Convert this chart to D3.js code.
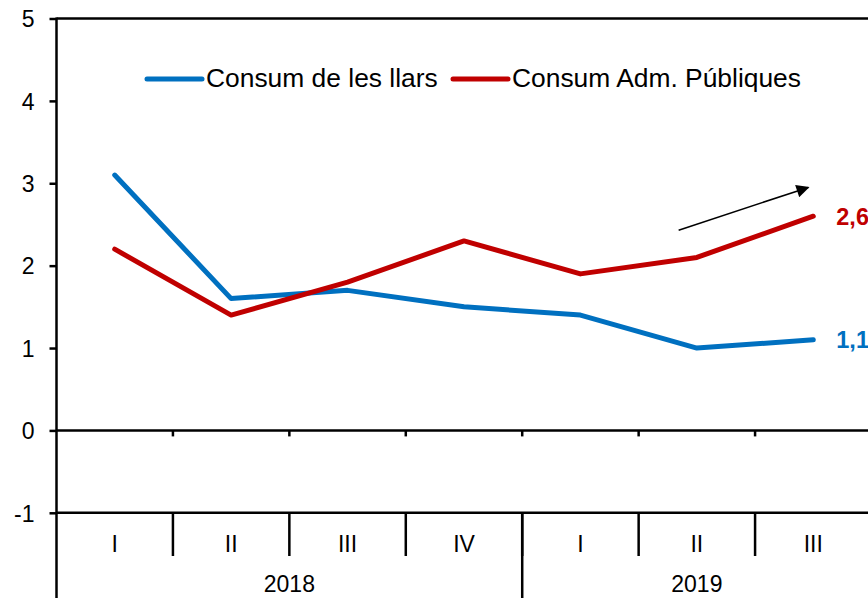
<!DOCTYPE html>
<html>
<head>
<meta charset="utf-8">
<script src="https://cdn.jsdelivr.net/npm/d3@7"></script>
<style>
  html, body { margin: 0; padding: 0; background: #fff; overflow: hidden; }
  svg { display: block; font-family: "Liberation Sans", Arial, sans-serif; }
</style>
</head>
<body>
<script>
// data
var quarters = ["I", "II", "III", "IV", "I", "II", "III"];
var years = ["2018", "2019"];
var yearSpan = [4, 3]; // quarters per year (2019 only goes to III)
var llars = [3.1, 1.6, 1.7, 1.5, 1.4, 1.0, 1.1];
var admPubliques = [2.2, 1.4, 1.8, 2.3, 1.9, 2.1, 2.6];
var yTicks = [-1, 0, 1, 2, 3, 4, 5];
var seriesNames = ["Consum de les llars", "Consum Adm. Públiques"];
var seriesColors = ["#0070C0", "#C00000"];

var w = 868, h = 598;
var svg = d3.select("body").append("svg")
  .attr("width", w)
  .attr("height", h);

var idx = d3.range(quarters.length);
// plot runs a little past the right edge of the window, like the source
var x = d3.scaleBand().domain(idx).range([56.5, 871.5]).padding(0);
var y = d3.scaleLinear().domain([-1, 5]).range([512.8, 18.5]);

var black = "#000";

// top border of plot area
svg.append("line")
  .attr("x1", x.range()[0]).attr("x2", x.range()[1])
  .attr("y1", y(5)).attr("y2", y(5))
  .attr("stroke", black).attr("stroke-width", 2.5);

// y axis
var yAxis = d3.axisLeft(y)
  .tickValues(yTicks)
  .tickSize(7)
  .tickPadding(15)
  .tickFormat(function(d) { return String(d); });

var gy = svg.append("g")
  .attr("transform", "translate(" + x.range()[0] + ",0)")
  .call(yAxis);
gy.select(".domain").remove();
gy.selectAll(".tick line").attr("stroke", black).attr("stroke-width", 2.5);
gy.selectAll(".tick text")
  .attr("fill", black)
  .style("font-size", "23px")
  .attr("dy", "0.36em");

// vertical axis line reaching to the bottom of the window
svg.append("line")
  .attr("x1", x.range()[0]).attr("x2", x.range()[0])
  .attr("y1", y(5) - 1).attr("y2", h)
  .attr("stroke", black).attr("stroke-width", 2.5);

// zero line with small tick marks at category boundaries
svg.append("line")
  .attr("x1", x.range()[0]).attr("x2", x.range()[1])
  .attr("y1", y(0)).attr("y2", y(0))
  .attr("stroke", black).attr("stroke-width", 2.5);
svg.selectAll("line.zt")
  .data(idx.slice(1))
  .enter().append("line")
  .attr("class", "zt")
  .attr("x1", function(d) { return x(d); })
  .attr("x2", function(d) { return x(d); })
  .attr("y1", y(0)).attr("y2", y(0) + 6)
  .attr("stroke", black).attr("stroke-width", 2.5);

// bottom line at -1
svg.append("line")
  .attr("x1", x.range()[0]).attr("x2", x.range()[1])
  .attr("y1", y(-1)).attr("y2", y(-1))
  .attr("stroke", black).attr("stroke-width", 2.5);

// quarter separators
var sepBottom = 556;
svg.selectAll("line.qsep")
  .data(idx.slice(1))
  .enter().append("line")
  .attr("class", "qsep")
  .attr("x1", function(d) { return x(d); })
  .attr("x2", function(d) { return x(d); })
  .attr("y1", y(-1)).attr("y2", sepBottom)
  .attr("stroke", black).attr("stroke-width", 2.5);

// quarter labels
svg.selectAll("text.q")
  .data(idx)
  .enter().append("text")
  .attr("class", "q")
  .attr("x", function(d) { return x(d) + x.bandwidth() / 2; })
  .attr("y", 551.5)
  .attr("text-anchor", "middle")
  .style("font-size", "23px")
  .text(function(d) { return quarters[d]; });

// year groups
var start = 0, yearInfo = [];
years.forEach(function(yr, i) {
  yearInfo.push({ label: yr, first: start, last: start + yearSpan[i] - 1 });
  start += yearSpan[i];
});
svg.selectAll("line.ysep")
  .data(yearInfo.slice(1))
  .enter().append("line")
  .attr("class", "ysep")
  .attr("x1", function(d) { return x(d.first); })
  .attr("x2", function(d) { return x(d.first); })
  .attr("y1", y(-1)).attr("y2", h)
  .attr("stroke", black).attr("stroke-width", 2.5);
svg.selectAll("text.yr")
  .data(yearInfo)
  .enter().append("text")
  .attr("class", "yr")
  .attr("x", function(d) { return (x(d.first) + x(d.last) + x.bandwidth()) / 2; })
  .attr("y", 592)
  .attr("text-anchor", "middle")
  .style("font-size", "23px")
  .text(function(d) { return d.label; });

// lines
var line = d3.line()
  .x(function(d, i) { return x(i) + x.bandwidth() / 2; })
  .y(function(d) { return y(d); });

[llars, admPubliques].forEach(function(s, k) {
  svg.append("path")
    .datum(s)
    .attr("d", line)
    .attr("fill", "none")
    .attr("stroke", seriesColors[k])
    .attr("stroke-width", 5)
    .attr("stroke-linejoin", "round")
    .attr("stroke-linecap", "round");
});

// end value labels
var fmt = function(v) { return d3.format(".1f")(v).replace(".", ","); };
var lastI = quarters.length - 1;
[llars, admPubliques].forEach(function(s, k) {
  svg.append("text")
    .attr("x", x(lastI) + x.bandwidth() / 2 + 23)
    .attr("y", y(s[lastI]))
    .attr("dy", "0.36em")
    .attr("fill", seriesColors[k])
    .style("font-size", "23.5px")
    .style("font-weight", "bold")
    .text(fmt(s[lastI]));
});

// trend arrow
svg.append("defs").append("marker")
  .attr("id", "ah")
  .attr("viewBox", "0 0 10 10")
  .attr("refX", 9).attr("refY", 5)
  .attr("markerWidth", 15).attr("markerHeight", 13)
  .attr("markerUnits", "userSpaceOnUse")
  .attr("orient", "auto")
  .append("path")
  .attr("d", "M0,0 L10,5 L0,10 Z")
  .attr("fill", black);
// scaled to roughly span the last two quarters
var ax1 = x(5) + 40, ax2 = x(6) + x.bandwidth() / 2 - 5;
svg.append("line")
  .attr("x1", ax1).attr("y1", y(2.43))
  .attr("x2", ax2).attr("y2", y(2.95))
  .attr("stroke", black).attr("stroke-width", 1.6)
  .attr("marker-end", "url(#ah)");

// legend
var legend = svg.append("g");
var legX = [147, 453];
seriesNames.forEach(function(n, k) {
  legend.append("line")
    .attr("x1", legX[k]).attr("x2", legX[k] + 55)
    .attr("y1", 79).attr("y2", 79)
    .attr("stroke", seriesColors[k])
    .attr("stroke-width", 5)
    .attr("stroke-linecap", "round");
  legend.append("text")
    .attr("x", legX[k] + 59)
    .attr("y", 87)
    .style("font-size", "26.4px")
    .text(n);
});
</script>
</body>
</html>
